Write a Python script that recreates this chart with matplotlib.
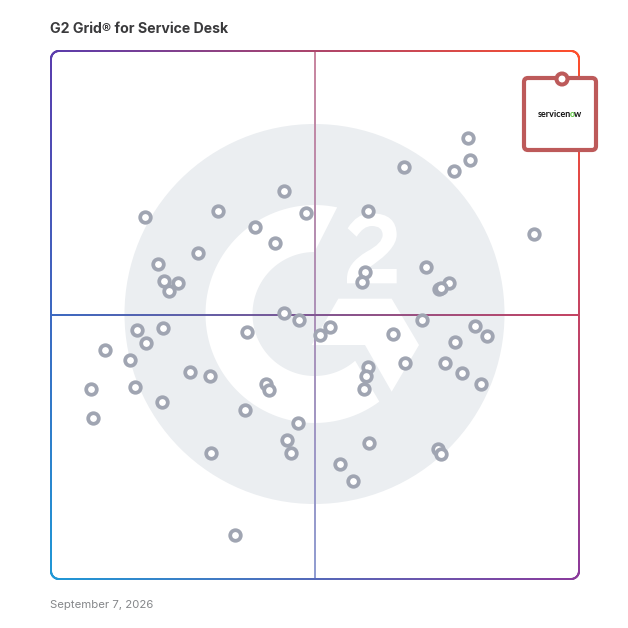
import numpy as np
import matplotlib
matplotlib.use("Agg")
import matplotlib.pyplot as plt
from matplotlib.collections import LineCollection
from matplotlib.patches import Circle, PathPatch, Polygon, FancyBboxPatch
from matplotlib.path import Path
from matplotlib.colors import to_rgb

title = "G2 Grid® for Service Desk"
date_label = "September 7, 2026"
vendor = ["servicen", "o", "w"]

market_presence = [78.9, 79.3, 76.3, 66.8, 91.5, 44.0, 17.6, 31.5, 38.5, 48.2, 60.0, 42.3, 27.7, 20.1, 21.3, 23.9,
                   22.2, 59.4, 58.8, 71.0, 75.3, 73.4, 73.9, 44.0, 46.9, 50.9, 52.8, 37.0, 16.1, 21.1, 17.8, 10.1,
                   14.8, 26.2, 30.0, 15.7, 7.4, 7.8, 20.9, 40.6, 41.2, 36.6, 46.7, 44.6, 45.4, 30.2, 34.7, 60.0,
                   59.6, 59.2, 67.0, 64.7, 70.2, 80.3, 82.5, 76.5, 74.6, 77.8, 81.4, 60.2, 54.6, 57.1, 73.2, 73.8]
satisfaction = [83.7, 79.5, 77.4, 78.2, 65.5, 73.6, 68.7, 69.8, 66.8, 69.4, 69.8, 63.8, 61.9, 59.8, 56.5, 56.2,
                54.6, 58.3, 56.4, 59.2, 56.2, 55.0, 55.3, 50.5, 49.1, 46.3, 47.8, 46.9, 47.2, 47.6, 44.8, 43.5,
                41.6, 39.3, 38.5, 36.4, 36.1, 30.6, 33.6, 37.0, 35.9, 32.1, 29.6, 26.4, 23.9, 23.9, 8.3, 40.2,
                38.5, 36.1, 41.0, 46.5, 49.1, 48.0, 46.1, 45.0, 41.0, 39.1, 37.0, 25.8, 21.8, 18.6, 24.7, 23.7]

W = 628.0
LOGO_BG = "#ebeef1"
RING = "#a0a5b2"
BOX = "#bd5a5a"
C_TL, C_TR = np.array(to_rgb("#5a3cad")), np.array(to_rgb("#ff4f2b"))
C_BL, C_BR = np.array(to_rgb("#1f98d6")), np.array(to_rgb("#8b3a9c"))

fig = plt.figure(figsize=(6.28, 6.28), dpi=100, facecolor="white")
bg = fig.add_axes([0, 0, 1, 1], zorder=0)
bg.set_xlim(0, W); bg.set_ylim(0, W); bg.axis("off")

def P(x, y):
    return (x, W - y)

def Z(zx, zy):
    return P(200 + zx / 3, 200 + zy / 3)

# background emblem
cx, cy = P(314.5, 314)
bg.add_patch(Circle((cx, cy), 190, fc=LOGO_BG, ec="none"))
ao = np.radians(np.linspace(78, 306.5, 90))
ai = np.radians(np.linspace(311, 90, 90))
g_pts = np.vstack([np.column_stack([cx + 109 * np.cos(ao), cy + 109 * np.sin(ao)]),
                   np.column_stack([cx + 62 * np.cos(ai), cy + 62 * np.sin(ai)])])
bg.add_patch(Polygon(g_pts, closed=True, fc="white", ec="none"))
bg.add_patch(Polygon([Z(415, 296), Z(575, 296), Z(657, 435), Z(575, 575), Z(495, 435), Z(335, 435)],
                     closed=True, fc="white", ec="none"))
verts = [Z(443, 85), Z(470, 40), Z(515, 40),
         Z(590, 40), Z(590, 105),
         Z(590, 150), Z(500, 207),
         Z(590, 207), Z(590, 250), Z(441, 250), Z(441, 235),
         Z(441, 190), Z(500, 155),
         Z(548, 130), Z(548, 105),
         Z(548, 78), Z(515, 78),
         Z(490, 78), Z(470, 110), Z(443, 85)]
codes = [Path.MOVETO, Path.CURVE3, Path.CURVE3, Path.CURVE3, Path.CURVE3, Path.CURVE3, Path.CURVE3,
         Path.LINETO, Path.LINETO, Path.LINETO, Path.LINETO, Path.CURVE3, Path.CURVE3, Path.CURVE3, Path.CURVE3,
         Path.CURVE3, Path.CURVE3, Path.CURVE3, Path.CURVE3, Path.CLOSEPOLY]
bg.add_patch(PathPatch(Path(verts, codes), fc="white", ec="none"))

# gradient frame and cross-hair
x0, x1, y0, y1 = 51.0, 579.0, 51.0, 579.0

def grad(px, py):
    u = np.clip((px - x0) / (x1 - x0), 0, 1)[:, None]
    v = np.clip((py - y0) / (y1 - y0), 0, 1)[:, None]
    return (1 - u) * (1 - v) * C_TL + u * (1 - v) * C_TR + (1 - u) * v * C_BL + u * v * C_BR

def stroke(px, py, lw, alpha=1.0):
    pts = np.column_stack([px, W - np.asarray(py)])
    segs = np.stack([pts[:-1], pts[1:]], axis=1)
    mx, my = (px[:-1] + px[1:]) / 2, (py[:-1] + py[1:]) / 2
    cols = alpha * grad(mx, my) + (1 - alpha) * 1.0
    lc = LineCollection(segs, colors=cols, linewidths=lw, capstyle="round")
    lc.set_snap(False)
    bg.add_collection(lc)

r = 8.0
t = np.linspace(0, np.pi / 2, 24)
n = 300
xm, ym = 315.0, 315.0
stroke(np.full(n, xm), np.linspace(y0, y1, n), 1.44, alpha=0.65)
stroke(np.linspace(x0, x1, n), np.full(n, ym), 1.44)
fx = np.concatenate([np.linspace(x0 + r, x1 - r, n), x1 - r + r * np.sin(t), np.full(n, x1),
                     x1 - r + r * np.cos(t), np.linspace(x1 - r, x0 + r, n), x0 + r - r * np.sin(t),
                     np.full(n, x0), x0 + r - r * np.cos(t)])
fy = np.concatenate([np.full(n, y0), y0 + r - r * np.cos(t), np.linspace(y0 + r, y1 - r, n),
                     y1 - r + r * np.sin(t), np.full(n, y1), y1 - r + r * np.cos(t),
                     np.linspace(y1 - r, y0 + r, n), y0 + r - r * np.sin(t)])
stroke(fx, fy, 1.44)

# data axes
ax = fig.add_axes([52 / W, 1 - 579 / W, 527 / W, 527 / W], zorder=1)
ax.set_xlim(0, 100); ax.set_ylim(0, 100)
ax.patch.set_alpha(0); ax.axis("off")
ax.scatter(market_presence, satisfaction, s=58, facecolor="white", edgecolor=RING, linewidth=2.7, zorder=3)

# leader card
over = fig.add_axes([0, 0, 1, 1], zorder=2)
over.set_xlim(0, W); over.set_ylim(0, W); over.axis("off"); over.patch.set_alpha(0)
bx, by = P(524, 150)
over.add_patch(FancyBboxPatch((bx + 3, by + 3), 66, 66, boxstyle="round,pad=3,rounding_size=4",
                              fc="white", ec=BOX, lw=3.0))
over.add_patch(Circle(P(562, 79), 5.5, fc="white", ec=BOX, lw=2.9))

fig.canvas.draw()
rend = fig.canvas.get_renderer()
tx = 537.5
for part, col in zip(vendor, ["#111111", "#5cc83f", "#111111"]):
    tt = over.text(*P(tx, 114.5), part, color=col, fontsize=6.5, fontweight="bold", family="Lato", ha="left", va="center")
    tx += tt.get_window_extent(rend).width - 1.0

fig.text(50 / W, 1 - 29 / W, title, fontsize=10.2, fontweight="bold", family="Inter", color="#3a3a3c", ha="left", va="center")
fig.text(50 / W, 1 - 604.5 / W, date_label, fontsize=8.2, family="Inter", color="#85878a", ha="left", va="center")

fig.savefig("out.png", dpi=100)
